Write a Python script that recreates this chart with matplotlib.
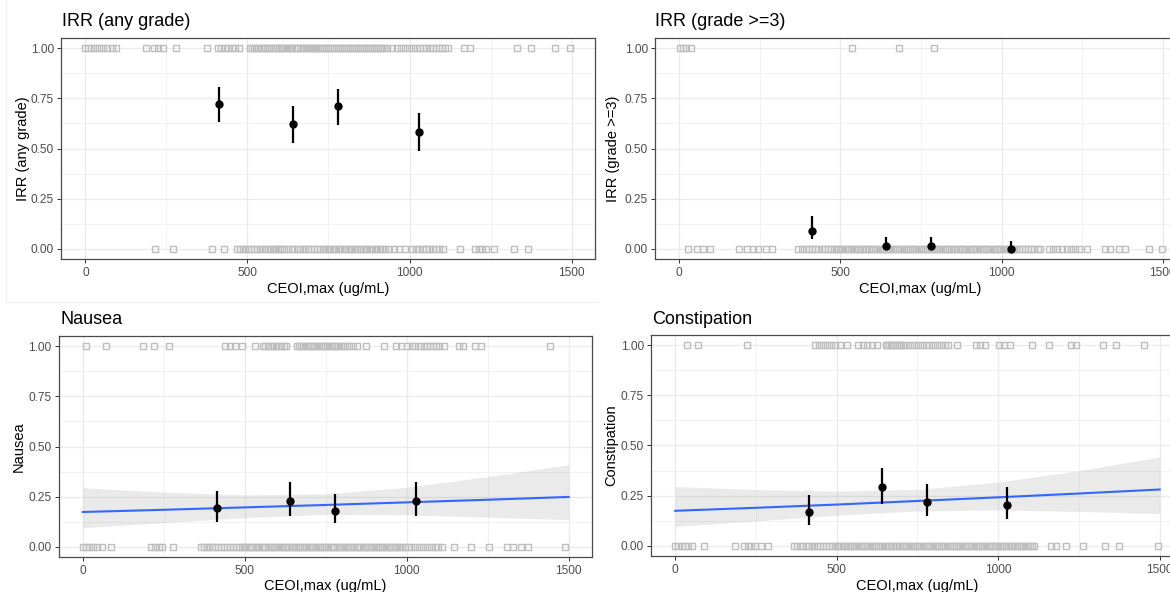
import matplotlib
matplotlib.use("Agg")
import matplotlib.pyplot as plt
from matplotlib.ticker import FixedLocator
from matplotlib.lines import Line2D

plt.rcParams['font.family'] = ['Liberation Sans', 'DejaVu Sans']

# ---------------- data ----------------
x_label = "CEOI,max (ug/mL)"
titles = ["IRR (any grade)", "IRR (grade >=3)", "Nausea", "Constipation"]
y_labels = ["IRR (any grade)", "IRR (grade >=3)", "Nausea", "Constipation"]

# individual exposures with (1) and without (0) the event
irr_any_yes = [0, 8, 17, 29, 41, 54, 67, 81, 96, 187, 213, 225, 241, 281, 376, 408, 417, 432,
               441, 452, 463, 475, 507, 513, 521, 528, 534, 541, 549, 555, 561, 566, 572, 579,
               584, 590, 597, 603, 608, 615, 621, 627, 632, 639, 646, 652, 657, 664, 670, 675,
               682, 688, 695, 701, 707, 713, 719, 724, 731, 737, 743, 749, 756, 761, 767, 774,
               780, 786, 791, 798, 804, 810, 817, 822, 829, 835, 841, 847, 853, 860, 866, 871,
               878, 884, 891, 897, 903, 909, 915, 921, 930, 946, 960, 973, 986, 999, 1011, 1022,
               1031, 1042, 1051, 1062, 1071, 1081, 1090, 1101, 1110, 1118, 1167, 1186, 1330,
               1375, 1449, 1494]
irr_any_no = [216, 269, 392, 429, 467, 477, 486, 494, 503, 511, 520, 529, 538, 546, 555, 563,
              571, 578, 584, 589, 595, 601, 606, 614, 625, 636, 645, 653, 662, 671, 679, 688,
              697, 705, 714, 723, 733, 740, 748, 755, 763, 771, 778, 786, 793, 801, 809, 816,
              824, 832, 839, 847, 855, 862, 870, 878, 885, 893, 901, 908, 916, 925, 938, 951,
              966, 985, 1009, 1019, 1029, 1040, 1050, 1061, 1071, 1082, 1092, 1102, 1156, 1203,
              1214, 1225, 1235, 1262, 1321, 1364]

irr_g3_yes = [2, 12, 22, 38, 536, 681, 791]
irr_g3_no = [26, 55, 75, 95, 187, 210, 228, 245, 268, 288, 368, 380, 392, 402, 412, 422, 432,
             442, 452, 462, 472, 479, 485, 493, 499, 506, 514, 520, 527, 533, 541, 548, 554, 561,
             568, 575, 581, 588, 594, 602, 608, 615, 622, 628, 635, 642, 648, 655, 662, 669, 675,
             682, 689, 696, 702, 709, 716, 722, 729, 736, 743, 749, 756, 763, 770, 776, 783, 790,
             797, 803, 810, 817, 824, 830, 837, 844, 851, 857, 864, 871, 878, 884, 891, 898, 905,
             911, 918, 925, 932, 938, 945, 952, 959, 965, 972, 979, 986, 992, 999, 1006, 1013,
             1019, 1026, 1033, 1040, 1046, 1055, 1064, 1073, 1082, 1092, 1102, 1112, 1120, 1146,
             1160, 1172, 1187, 1203, 1215, 1228, 1239, 1265, 1322, 1337, 1364, 1384, 1457, 1498]

nausea_yes = [10, 72, 187, 221, 267, 440, 455, 470, 490, 532, 555, 563, 572, 580, 588, 596, 604,
              612, 620, 627, 661, 667, 674, 681, 688, 694, 701, 708, 715, 721, 728, 735, 742, 748,
              755, 762, 769, 775, 782, 789, 796, 802, 809, 822, 835, 848, 874, 931, 968, 983,
              1000, 1015, 1027, 1040, 1053, 1062, 1072, 1080, 1090, 1100, 1114, 1160, 1175, 1211,
              1228, 1442]
nausea_no = [0, 10, 20, 32, 45, 60, 88, 210, 222, 234, 244, 280, 364, 373, 382, 391, 400, 409,
             418, 427, 436, 445, 454, 463, 472, 481, 490, 497, 503, 512, 518, 523, 531, 538, 544,
             552, 559, 563, 571, 578, 585, 590, 598, 604, 611, 619, 624, 630, 637, 645, 650, 657,
             664, 672, 677, 684, 690, 698, 705, 711, 718, 725, 731, 737, 744, 752, 758, 765, 771,
             777, 785, 791, 797, 804, 812, 818, 824, 831, 838, 845, 851, 857, 865, 871, 878, 884,
             891, 897, 905, 911, 918, 924, 930, 938, 944, 951, 957, 964, 971, 978, 984, 994, 1004,
             1014, 1026, 1038, 1050, 1062, 1074, 1086, 1097, 1108, 1145, 1197, 1254, 1311, 1327,
             1353, 1374, 1489]

constip_yes = [36, 70, 222, 434, 446, 458, 470, 482, 494, 510, 533, 565, 580, 595, 610, 626, 651,
               657, 663, 669, 675, 681, 687, 693, 699, 705, 715, 727, 739, 751, 763, 775, 787,
               799, 811, 823, 835, 843, 872, 931, 945, 960, 1003, 1018, 1035, 1106, 1158, 1225,
               1240, 1323, 1365, 1450]
constip_no = [0, 10, 20, 30, 40, 52, 88, 186, 212, 224, 236, 248, 266, 288, 367, 376, 385, 394,
              404, 413, 422, 431, 440, 449, 458, 467, 476, 485, 494, 501, 507, 514, 521, 527, 534,
              541, 547, 554, 561, 568, 574, 581, 588, 594, 601, 608, 615, 621, 628, 635, 641, 648,
              655, 662, 668, 675, 682, 688, 695, 702, 709, 715, 722, 729, 735, 742, 749, 756, 762,
              769, 776, 782, 789, 796, 803, 809, 816, 823, 829, 836, 843, 850, 856, 863, 870, 876,
              883, 890, 897, 903, 910, 917, 923, 930, 937, 944, 950, 957, 964, 970, 977, 984, 991,
              997, 1004, 1011, 1017, 1024, 1031, 1038, 1044, 1051, 1058, 1064, 1071, 1078, 1085,
              1091, 1098, 1105, 1112, 1163, 1180, 1210, 1261, 1329, 1375, 1494]

# binned observed proportions (exposure quartile medians) with 95% CI
bin_x = [413, 640, 780, 1028]
irr_any_est = [0.721, 0.621, 0.711, 0.581]
irr_any_lo = [0.630, 0.527, 0.616, 0.487]
irr_any_hi = [0.806, 0.713, 0.796, 0.676]
irr_g3_est = [0.090, 0.015, 0.015, 0.002]
irr_g3_lo = [0.048, 0.003, 0.003, 0.000]
irr_g3_hi = [0.164, 0.061, 0.061, 0.042]
nausea_est = [0.192, 0.227, 0.179, 0.227]
nausea_lo = [0.126, 0.156, 0.118, 0.156]
nausea_hi = [0.279, 0.322, 0.264, 0.322]
constip_est = [0.169, 0.293, 0.219, 0.204]
constip_lo = [0.103, 0.210, 0.147, 0.136]
constip_hi = [0.255, 0.387, 0.310, 0.293]

# logistic regression fit with 95% confidence band
fit_x = [0, 250, 500, 750, 1000, 1250, 1500]
nausea_fit = [0.174, 0.185, 0.197, 0.209, 0.222, 0.235, 0.249]
nausea_fit_lo = [0.096, 0.121, 0.146, 0.162, 0.160, 0.148, 0.136]
nausea_fit_hi = [0.295, 0.273, 0.259, 0.265, 0.297, 0.350, 0.410]
constip_fit = [0.175, 0.190, 0.206, 0.224, 0.242, 0.261, 0.281]
constip_fit_lo = [0.097, 0.124, 0.153, 0.174, 0.179, 0.172, 0.161]
constip_fit_hi = [0.296, 0.281, 0.273, 0.282, 0.318, 0.375, 0.443]

x_ticks = [0, 500, 1000, 1500]
y_ticks = [0.0, 0.25, 0.5, 0.75, 1.0]
y_tick_labels = ["0.00", "0.25", "0.50", "0.75", "1.00"]

# ---------------- figure ----------------
W, H = 1170, 592
fig = plt.figure(figsize=(W / 100, H / 100), dpi=100)
fig.patch.set_facecolor("white")

# thin separator lines of the composite layout
fig.add_artist(Line2D([6 / W, 6 / W], [1, 1 - 302 / H], color="#EFEFEF", lw=0.8))
fig.add_artist(Line2D([6 / W, 597 / W], [1 - 302 / H, 1 - 302 / H], color="#EFEFEF", lw=0.8))


def px_axes(l, r, t, b):
    return fig.add_axes([l / W, 1 - b / H, (r - l) / W, (b - t) / H])


def draw_panel(box, title, ylab, title_xy, ylab_x, xlab_y, yes_x, no_x, est, lo, hi,
               fit=None):
    l, r, t, b = box
    ax = px_axes(l, r, t, b)
    ax.set_xlim(-75, 1572)
    ax.set_ylim(-0.05, 1.05)
    ax.set_xticks(x_ticks)
    ax.set_xticklabels([str(v) for v in x_ticks])
    ax.set_yticks(y_ticks)
    ax.set_yticklabels(y_tick_labels)
    ax.xaxis.set_minor_locator(FixedLocator([250, 750, 1250]))
    ax.yaxis.set_minor_locator(FixedLocator([0.125, 0.375, 0.625, 0.875]))
    ax.grid(which="major", color="#EBEBEB", lw=1.0)
    ax.grid(which="minor", color="#F2F2F2", lw=0.7)
    ax.set_axisbelow(True)
    ax.tick_params(which="minor", length=0)
    ax.tick_params(which="major", length=3, width=0.7, color="#333333",
                   labelsize=8.6, labelcolor="#4D4D4D", pad=2)
    ax.tick_params(axis="x", pad=3)
    for s in ax.spines.values():
        s.set_color("#4A4A4A")
        s.set_linewidth(0.9)

    ax.plot(yes_x, [1] * len(yes_x), ls="none", marker="s", mfc="none",
            mec="#BEBEBE", ms=4.5, mew=1.0, zorder=2)
    ax.plot(no_x, [0] * len(no_x), ls="none", marker="s", mfc="none",
            mec="#BEBEBE", ms=4.5, mew=1.0, zorder=2)

    if fit is not None:
        fx, fp, flo, fhi = fit
        ax.fill_between(fx, flo, fhi, color="#999999", alpha=0.2, lw=0, zorder=3)
        ax.plot(fx, fp, color="#3366FF", lw=1.5, zorder=4)

    ax.vlines(bin_x, lo, hi, color="black", lw=1.6, zorder=5)
    ax.plot(bin_x, est, ls="none", marker="o", color="black", ms=5, zorder=6)

    fig.text(title_xy[0] / W, 1 - title_xy[1] / H, title, fontsize=13,
             ha="left", va="center", color="black")
    fig.text(ylab_x / W, 1 - (t + b) / 2 / H, ylab, fontsize=10.5, rotation=90,
             ha="center", va="center", color="black")
    fig.text((l + r) / 2 / W, 1 - xlab_y / H, x_label, fontsize=10.5,
             ha="center", va="center", color="black")
    return ax


draw_panel((61, 595, 38, 259), titles[0], y_labels[0], (62, 22), 23, 289,
           irr_any_yes, irr_any_no, irr_any_est, irr_any_lo, irr_any_hi)
draw_panel((655, 1186, 38, 259), titles[1], y_labels[1], (655, 22), 613, 289,
           irr_g3_yes, irr_g3_no, irr_g3_est, irr_g3_lo, irr_g3_hi)
draw_panel((58.5, 592, 336, 557), titles[2], y_labels[2], (60, 319), 18.5, 586,
           nausea_yes, nausea_no, nausea_est, nausea_lo, nausea_hi,
           fit=(fit_x, nausea_fit, nausea_fit_lo, nausea_fit_hi))
draw_panel((651, 1183, 335, 556), titles[3], y_labels[3], (652, 319), 611.5, 586,
           constip_yes, constip_no, constip_est, constip_lo, constip_hi,
           fit=(fit_x, constip_fit, constip_fit_lo, constip_fit_hi))

fig.savefig("out.png", dpi=100, facecolor="white")
